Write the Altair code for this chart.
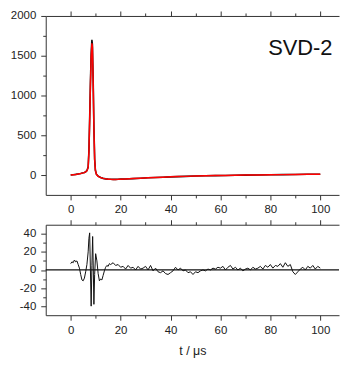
import altair as alt
import pandas as pd

# ---- top panel: observed signal and fit ----
t_top = [0, 1, 2, 3, 4, 5, 5.5, 6, 6.5, 7,
         7.3, 7.6, 7.9, 8.2, 8.5, 8.7, 9.0, 9.3, 9.6, 9.9,
         10.3, 11, 12, 13, 14, 15, 16, 17, 18, 19,
         20, 22, 25, 28, 31, 34, 37, 40, 43, 46,
         50, 54, 58, 62, 66, 70, 75, 80, 85, 90,
         95, 100]
y_obs = [0, 4, 8, 14, 20, 28, 33, 40, 55, 100,
         300, 700, 1150, 1520, 1700, 1640, 1200, 600, 200, 60,
         10, -15, -32, -42, -48, -52, -54, -55, -55, -54,
         -52, -49, -45, -40, -35, -31, -27, -23, -20, -17,
         -13, -10, -7, -5, -3, -1, 1, 3, 5, 7,
         9, 10]
y_fit = [0, 4, 8, 13, 19, 27, 32, 39, 52, 95,
         290, 680, 1120, 1480, 1655, 1610, 1180, 590, 195, 58,
         9, -16, -32, -42, -48, -52, -54, -55, -55, -54,
         -52, -49, -45, -40, -35, -31, -27, -23, -20, -17,
         -13, -10, -7, -5, -3, -1, 1, 3, 5, 7,
         9, 10]

# ---- bottom panel: residual ----
t_res = [0, 0.5, 1, 1.5, 2, 2.5, 3, 3.5, 4, 4.5, 5, 5.5, 6, 6.5, 7, 7.3, 7.6, 7.9,
         8.2, 8.5, 8.8, 9.0, 9.3, 9.6, 10, 10.5, 11, 11.5, 12, 12.5, 13, 13.5, 14,
         14.5, 15, 15.5] + list(range(16, 101))
res = [7, 9, 8, 11, 9, 10, 6, 2, -5, -11, -12, -9, -2, 6, 20, 35, 41, 0,
       -40, 5, 37, 10, -38, -5, 18, 10, -4, -12, -10, -11, -6, -1, 3,
       5, 4, 7,
       6, 8, 5, 6, 3, 4, 1, 5, 2, 3, 0, 4, 1, 2, 4,
       0, 5, -1, 2, -2, -3, -1, -4, -5, -3,
       -1, 3, 0, 2, -1, 0, -3, -2, -5, -2,
       -3, -1, 0, -1, 1, 0, 2, 1, 3, 2,
       4, 0, 3, 5, 1, 3, 0, 2, -1, 1,
       2, 0, 3, 1, 2, 4, 1, 5, 3, 6,
       2, 5, 4, 7, 3, 8, 4, 6, -2, -5,
       -2, 1, 3, 0, 4, 2, 5, 1, 4, 2]

label_t = [92]
label_y = [1600]
label_text = ["SVD-2"]
zero_val = [0]

top_df = pd.DataFrame({"t": t_top, "obs": y_obs, "fit": y_fit})
res_df = pd.DataFrame({"t": t_res, "r": res})
lab_df = pd.DataFrame({"t": label_t, "y": label_y, "text": label_text})
zero_df = pd.DataFrame({"r": zero_val})

FONT = "Liberation Sans"
xscale = alt.Scale(domain=[-10, 107.5], nice=False, zero=False)
yscale_top = alt.Scale(domain=[-250, 2000], nice=False, zero=False)
yscale_bot = alt.Scale(domain=[-50, 50], nice=False, zero=False)

common = dict(domainColor="#333333", tickColor="#333333", labelColor="#222222",
              labelFont=FONT, labelFontSize=11.5, grid=False, domainWidth=1,
              tickWidth=1, titleFont=FONT, titleFontSize=12.5,
              titleFontWeight="normal", titleColor="#222222")


def x_axis(orient, labels, title=None):
    return alt.Axis(orient=orient, values=list(range(0, 101, 10)), labels=labels,
                    labelExpr="datum.value % 20 === 0 ? '' + datum.value : ''",
                    tickSize={"condition": {"test": "datum.value % 20 !== 0", "value": 3}, "value": 5},
                    labelPadding=4, title=title, titlePadding=9, **common)


def y_axis(vals, step):
    return alt.Axis(orient="left", values=vals, title=None, labelPadding=5,
                    labelExpr=f"datum.value % {step} === 0 ? '' + datum.value : ''",
                    tickSize={"condition": {"test": f"datum.value % {step} !== 0", "value": 3}, "value": 5},
                    **common)


ytop_axis = y_axis(list(range(0, 2001, 250)), 500)
ybot_axis = y_axis(list(range(-40, 41, 10)), 20)

obs_line = alt.Chart(top_df).mark_line(color="#111111", strokeWidth=1.6).encode(
    x=alt.X("t:Q", scale=xscale, axis=x_axis("bottom", True)),
    y=alt.Y("obs:Q", scale=yscale_top, axis=ytop_axis),
)
fit_line = alt.Chart(top_df).mark_line(color="#ff0000", strokeWidth=1.5).encode(
    x=alt.X("t:Q", scale=xscale, axis=x_axis("top", False)),
    y=alt.Y("fit:Q", scale=yscale_top, axis=ytop_axis),
)
label = alt.Chart(lab_df).mark_text(font=FONT, fontSize=22, color="#111111",
                                     align="center", baseline="middle").encode(
    x=alt.X("t:Q", scale=xscale, axis=None),
    y=alt.Y("y:Q", scale=yscale_top, axis=ytop_axis),
    text="text:N",
)
top = alt.layer(obs_line, fit_line, label).resolve_axis(x="independent").properties(
    width=295, height=180)

res_line = alt.Chart(res_df).mark_line(color="#111111", strokeWidth=1).encode(
    x=alt.X("t:Q", scale=xscale, axis=x_axis("bottom", True, title="t / μs")),
    y=alt.Y("r:Q", scale=yscale_bot, axis=ybot_axis),
)
res_hidden = alt.Chart(res_df).mark_line(opacity=0).encode(
    x=alt.X("t:Q", scale=xscale, axis=x_axis("top", False)),
    y=alt.Y("r:Q", scale=yscale_bot, axis=ybot_axis),
)
zero_rule = alt.Chart(zero_df).mark_rule(color="#111111", strokeWidth=1.3).encode(
    y=alt.Y("r:Q", scale=yscale_bot, axis=ybot_axis),
)
bottom = alt.layer(zero_rule, res_line, res_hidden).resolve_axis(x="independent").properties(
    width=295, height=91)

chart = alt.vconcat(top, bottom, spacing=30, bounds="flush").properties(
    padding={"left": 10, "top": 9, "right": 0, "bottom": 0},
    background="white",
).configure_view(stroke=None)

chart.save("out.html", embed_options={"renderer": "svg", "actions": False})
